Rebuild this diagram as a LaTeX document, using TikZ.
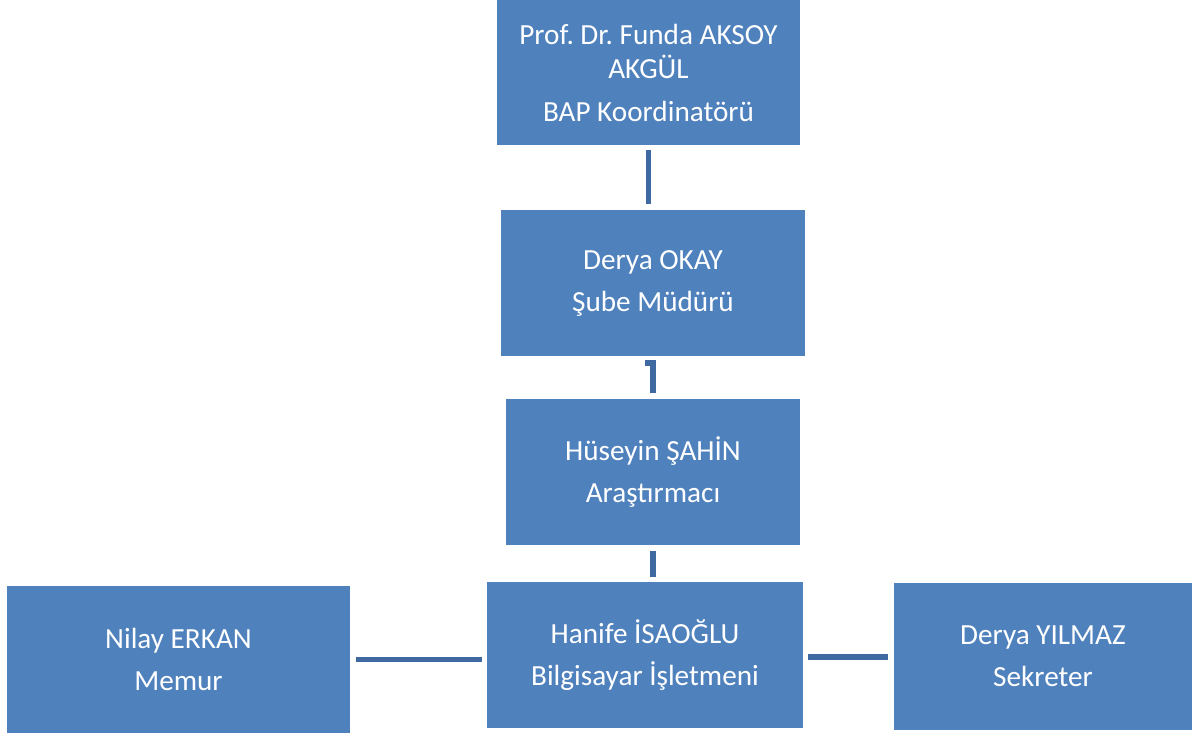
\documentclass[tikz,border=0pt]{standalone}
\usepackage{fontspec}
\setmainfont{Carlito}
\usepackage{xcolor}
\usetikzlibrary{positioning, calc}
\frenchspacing

\definecolor{boxblue}{HTML}{4F81BD}
\definecolor{linkblue}{HTML}{3E6AA1}

\tikzset{
  unitbox/.style={fill=boxblue, text=white, inner sep=0pt, outer sep=0pt,
    align=center, font=\fontsize{14.6}{17}\selectfont},
  link/.style={draw=linkblue, line width=2.6pt}
}

\begin{document}
\begin{tikzpicture}[x=0.5pt, y=-0.5pt]
  \useasboundingbox (0,0) rectangle (1201,737);

  \node[unitbox, minimum width=151.5pt, minimum height=72.5pt] (coord) at (648.5,72.5)
    {Prof. Dr. Funda AKSOY\\AKGÜL\\[4.5pt]BAP Koordinatörü};
  \node[unitbox, minimum width=152pt, minimum height=73pt] (mudur) at (653,283)
    {Derya OKAY\\[4pt]Şube Müdürü};
  \node[unitbox, minimum width=147pt, minimum height=73pt] (arastirma) at (653,472)
    {Hüseyin ŞAHİN\\[4pt]Araştırmacı};
  \node[unitbox, minimum width=158pt, minimum height=73pt] (isletmen) at (645,655)
    {Hanife İSAOĞLU\\[4pt]Bilgisayar İşletmeni};
  \node[unitbox, minimum width=171.5pt, minimum height=73.5pt] (memur) at (178.5,659.5)
    {Nilay ERKAN\\[4pt]Memur};
  \node[unitbox, minimum width=149pt, minimum height=73.5pt] (sekreter) at (1043,656.5)
    {Derya YILMAZ\\[4pt]Sekreter};

  \draw[link, shorten <=2.5pt, shorten >=3pt] (coord.south) -- (coord.south |- mudur.north);
  \draw[link, shorten >=3pt] ($(mudur.south)+(-8,7)$) -- ($(mudur.south)+(0,7)$) -- (arastirma.north);
  \draw[link, shorten <=3pt, shorten >=2.5pt] (arastirma.south) -- (arastirma.south |- isletmen.north);
  \draw[link, shorten <=3pt, shorten >=2.5pt] (memur.east) -- (memur.east -| isletmen.west);
  \draw[link, shorten <=2.5pt, shorten >=3pt] (isletmen.east) ++(0,2) -- ($(sekreter.west)+(0,0.5)$);
\end{tikzpicture}
\end{document}
